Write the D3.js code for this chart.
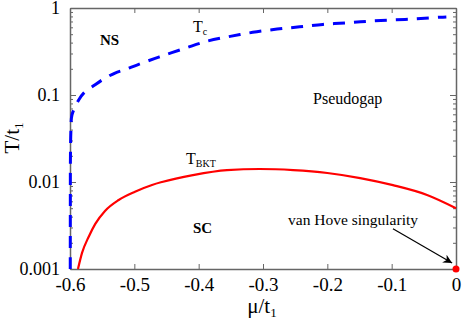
<!DOCTYPE html>
<html>
<head>
<meta charset="utf-8">
<script src="https://cdn.jsdelivr.net/npm/d3@7"></script>
<style>
  body { margin: 0; background: #fff; }
  svg { display: block; font-family: 'Liberation Serif', 'Times New Roman', serif; }
</style>
</head>
<body>
<svg id="chart" width="463" height="327"></svg>
<script>
// axis ticks
const xTicks = [-0.6, -0.5, -0.4, -0.3, -0.2, -0.1, 0]
const xTickLabels = ['-0.6', '-0.5', '-0.4', '-0.3', '-0.2', '-0.1', '0']
const yTicks = [0.001, 0.01, 0.1, 1]
const yTickLabels = ['0.001', '0.01', '0.1', '1']

// Tc (dashed blue)
const tcMu = [-0.5996, -0.5995, -0.5993, -0.5985, -0.5969, -0.5865, -0.5787, -0.5616, -0.550, -0.530, -0.516, -0.496, -0.462, -0.421, -0.387, -0.351, -0.316, -0.278, -0.243, -0.207, -0.169, -0.134, -0.098, -0.061, -0.025, -0.015]
const tcT = [0.001, 0.005, 0.02, 0.04, 0.059, 0.0877, 0.105, 0.130, 0.149, 0.179, 0.194, 0.221, 0.273, 0.345, 0.415, 0.472, 0.525, 0.572, 0.608, 0.648, 0.676, 0.706, 0.729, 0.751, 0.783, 0.79]

// T_BKT (solid red)
const bktMu = [-0.5876, -0.5813, -0.5709, -0.5607, -0.5456, -0.5243, -0.499, -0.4725, -0.457, -0.409, -0.356, -0.305, -0.253, -0.200, -0.149, -0.098, -0.045, 0]
const bktT = [0.001, 0.00153, 0.00235, 0.00330, 0.00465, 0.00621, 0.00774, 0.00925, 0.0100, 0.0120, 0.0137, 0.0141, 0.0137, 0.0127, 0.0111, 0.0092, 0.0071, 0.0050]

// van Hove point
const vhMu = [0]
const vhT = [0.001]

const svg = d3.select('#chart')
const x = d3.scaleLinear().domain([-0.6, 0]).range([70, 456])
const y = d3.scaleLog().domain([0.001, 1]).range([269, 8])

const frameColor = '#666'

// minor log ticks
const minor = y.ticks().filter(v => !yTicks.some(t => Math.abs(t - v) / v < 1e-6))

const leftAxis = svg.append('g').attr('transform', 'translate(70,0)')
  .call(d3.axisLeft(y).tickValues(yTicks).tickFormat((d, i) => yTickLabels[i]).tickSizeInner(-6).tickSizeOuter(0).tickPadding(10))
svg.append('g').attr('transform', 'translate(456,0)')
  .call(d3.axisRight(y).tickValues(yTicks).tickFormat('').tickSizeInner(-6).tickSizeOuter(0))
svg.append('g').attr('transform', 'translate(70,0)')
  .call(d3.axisLeft(y).tickValues(minor).tickFormat('').tickSizeInner(-3).tickSizeOuter(0))
  .select('.domain').remove()
svg.append('g').attr('transform', 'translate(456,0)')
  .call(d3.axisRight(y).tickValues(minor).tickFormat('').tickSizeInner(-3).tickSizeOuter(0))
  .select('.domain').remove()
const bottomAxis = svg.append('g').attr('transform', 'translate(0,269)')
  .call(d3.axisBottom(x).tickValues(xTicks).tickFormat((d, i) => xTickLabels[i]).tickSizeInner(-5).tickSizeOuter(0).tickPadding(9))
svg.append('g').attr('transform', 'translate(0,8)')
  .call(d3.axisTop(x).tickValues(xTicks).tickFormat('').tickSizeInner(-5).tickSizeOuter(0))

svg.selectAll('g').attr('font-family', null)
svg.selectAll('.domain').attr('stroke', frameColor).attr('stroke-width', 1.5)
svg.selectAll('.tick line').attr('stroke', frameColor).attr('stroke-width', 1)
svg.selectAll('.tick text')
  .style('font-family', "'Liberation Serif', serif")
  .style('font-size', '19px')
  .attr('fill', '#000')
leftAxis.selectAll('.tick text').style('font-size', '18px').attr('dy', '0.3em')
bottomAxis.selectAll('.tick text').attr('dy', '0.7em')

const tcLine = d3.line()
  .x(d => x(d[0]))
  .y(d => y(d[1]))
  .curve(d3.curveCatmullRom.alpha(0.5))

const bktLine = d3.line()
  .x(d => x(d[0]))
  .y(d => y(d[1]))
  .curve(d3.curveMonotoneX)

svg.append('path')
  .datum(d3.zip(bktMu, bktT))
  .attr('d', bktLine)
  .attr('fill', 'none')
  .attr('stroke', '#f00')
  .attr('stroke-width', 2.2)

svg.append('path')
  .datum(d3.zip(tcMu, tcT))
  .attr('d', tcLine)
  .attr('fill', 'none')
  .attr('stroke', '#00f')
  .attr('stroke-width', 3)
  .attr('stroke-dasharray', '12,9')

// arrow
svg.append('defs').append('marker')
  .attr('id', 'arrow')
  .attr('viewBox', '0 0 10 10')
  .attr('refX', 10).attr('refY', 5)
  .attr('markerWidth', 15).attr('markerHeight', 9)
  .attr('markerUnits', 'userSpaceOnUse')
  .attr('orient', 'auto')
  .append('path').attr('d', 'M0,0 L10,5 L0,10 L3,5 Z').attr('fill', '#000')

svg.append('line')
  .attr('x1', x(-0.098)).attr('y1', y(0.0029))
  .attr('x2', x(-0.006)).attr('y2', y(0.00117))
  .attr('stroke', '#000').attr('stroke-width', 1.2)
  .attr('marker-end', 'url(#arrow)')

svg.selectAll('circle.vh')
  .data(d3.zip(vhMu, vhT))
  .join('circle')
  .attr('class', 'vh')
  .attr('cx', d => x(d[0]))
  .attr('cy', d => y(d[1]))
  .attr('r', 3.5)
  .attr('fill', '#f00')

// labels
function label(px, py, txt, size, weight) {
  return svg.append('text').attr('x', px).attr('y', py)
    .style('font-size', size + 'px').style('font-weight', weight || 'normal')
    .text(txt)
}
label(100, 45, 'NS', 15, 'bold')
label(193, 233, 'SC', 15, 'bold')
label(313, 104, 'Pseudogap', 16)
label(288, 225, 'van Hove singularity', 15.5)

const tc = label(193, 32, 'T', 16)
tc.append('tspan').attr('dy', 3).style('font-size', '10px').text('c')
const tb = label(186, 164, 'T', 16)
tb.append('tspan').attr('dy', 3).style('font-size', '10px').text('BKT')

const xl = svg.append('text').attr('x', 262).attr('y', 313)
  .attr('text-anchor', 'middle').style('font-size', '21px').text('μ/t')
xl.append('tspan').attr('dy', 4).style('font-size', '13px').text('1')

const yl = svg.append('text').attr('transform', 'translate(19,138) rotate(-90)')
  .attr('text-anchor', 'middle').style('font-size', '21px').text('T/t')
yl.append('tspan').attr('dy', 4).style('font-size', '13px').text('1')
</script>
</body>
</html>
